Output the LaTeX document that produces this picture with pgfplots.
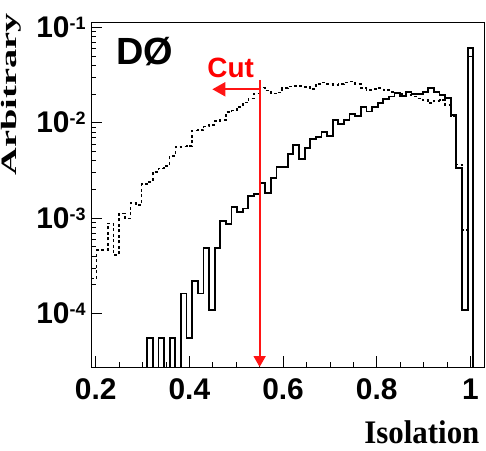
\documentclass[border=0pt]{standalone}
\usepackage{graphicx}
\usepackage{pgfplots}
\usepackage{pgfplotstable}
\pgfplotsset{compat=1.18}
\usepackage{fontspec}
\setmainfont{Liberation Sans}
\newfontfamily\timesfont{Liberation Serif}
\usetikzlibrary{arrows.meta}
\definecolor{cutred}{RGB}{255,20,20}

\pgfplotstableread{
x sig bkg
0.190 1e-6 1e-6
0.190 1e-6 2.33e-4
0.202 1e-6 4.6e-4
0.214 1e-6 4.6e-4
0.226 1e-6 8.8e-4
0.238 1e-6 4.1e-4
0.250 1e-6 1.12e-3
0.262 1e-6 9.9e-4
0.274 1e-6 1.43e-3
0.286 1e-6 1.37e-3
0.298 1e-6 2.26e-3
0.310 5.47e-5 2.4e-3
0.322 1e-6 3.06e-3
0.334 5.47e-5 3.32e-3
0.346 1e-6 3.51e-3
0.358 5.47e-5 4.48e-3
0.370 1e-6 5.52e-3
0.382 1.62e-4 5.6e-3
0.394 5.47e-5 5.69e-3
0.406 2.18e-4 8.3e-3
0.418 1.62e-4 8.4e-3
0.430 4.87e-4 9.08e-3
0.442 1.08e-4 9.46e-3
0.454 4.87e-4 1.04e-2
0.466 9.3e-4 1.07e-2
0.478 8.6e-4 1.3e-2
0.490 1.31e-3 1.34e-2
0.502 1.15e-3 1.47e-2
0.514 1.26e-3 1.62e-2
0.526 1.71e-3 1.8e-2
0.538 1.77e-3 2.03e-2
0.550 2.31e-3 2.33e-2
0.562 1.84e-3 2.17e-2
0.574 2.61e-3 2.03e-2
0.586 3.45e-3 2.08e-2
0.598 3.45e-3 2.3e-2
0.610 4.7e-3 2.39e-2
0.622 5.8e-3 2.43e-2
0.634 4.15e-3 2.43e-2
0.646 5.4e-3 2.36e-2
0.658 6.8e-3 2.24e-2
0.670 7.1e-3 2.55e-2
0.682 8.05e-3 2.63e-2
0.694 7.2e-3 2.53e-2
0.706 1.06e-2 2.49e-2
0.718 9.6e-3 2.55e-2
0.730 1.06e-2 2.65e-2
0.742 1.23e-2 2.69e-2
0.754 1.18e-2 2.55e-2
0.766 1.47e-2 2.3e-2
0.778 1.31e-2 2.2e-2
0.790 1.45e-2 2.24e-2
0.802 1.6e-2 2.3e-2
0.814 1.76e-2 2.2e-2
0.826 1.88e-2 2.11e-2
0.838 2.05e-2 2.03e-2
0.850 1.89e-2 1.99e-2
0.862 2.09e-2 1.94e-2
0.874 2.01e-2 1.88e-2
0.886 2.01e-2 1.8e-2
0.898 2.09e-2 1.73e-2
0.910 2.33e-2 1.6e-2
0.922 2.11e-2 1.7e-2
0.934 1.97e-2 1.73e-2
0.946 1.8e-2 1.54e-2
0.958 1.2e-2 1.16e-2
0.970 3.33e-3 3.66e-3
0.982 1.08e-4 7.5e-4
0.994 6.04e-2 4.93e-2
1.006 1e-6 1e-6
1.018 1e-6 1e-6
1.030 1e-6 1e-6
}\histdata

\begin{document}
\begin{tikzpicture}
\useasboundingbox (0,0) rectangle (486bp,451bp);
\begin{axis}[
  at={(91bp,84bp)}, anchor=south west,
  width=393.5bp, height=345bp, scale only axis,
  ymode=log,
  xmin=0.19, xmax=1.03, ymin=2.74e-5, ymax=0.1137,
  axis line style={line width=0.8bp},
  tick align=inside, xtick pos=bottom, ytick pos=left,
  xtick={0.2,0.4,0.6,0.8,1}, xticklabels={0.2,0.4,0.6,0.8,1},
  minor x tick num=3,
  ytick={1e-4,1e-3,1e-2,1e-1},
  yticklabels={10\raisebox{8bp}{\fontsize{18}{18}\selectfont -4},
               10\raisebox{8bp}{\fontsize{18}{18}\selectfont -3},
               10\raisebox{8bp}{\fontsize{18}{18}\selectfont -2},
               10\raisebox{8bp}{\fontsize{18}{18}\selectfont -1}},
  major tick length=11bp, minor tick length=5.5bp,
  every tick/.style={black, line width=0.6bp},
  ticklabel style={font=\fontsize{30}{30}\selectfont\bfseries},
  xticklabel style={yshift=-8bp},
  yticklabel style={xshift=-2bp},
  xlabel={\timesfont\bfseries\scalebox{0.94}[1]{Isolation}},
  xlabel style={at={(rel axis cs:0.996,-0.222)}, anchor=base east, font=\fontsize{33}{33}\selectfont},
  ylabel={\timesfont\bfseries\scalebox{1.75}[1]{Arbitrary}},
  ylabel style={at={(rel axis cs:-0.189,1.035)}, anchor=base east, font=\fontsize{22}{22}\selectfont},
]
\addplot[const plot, black, line width=1.6bp, dash pattern=on 3bp off 2.5bp] table[x=x, y=bkg] {\histdata};
\addplot[const plot, black, line width=1.8bp] table[x=x, y=sig] {\histdata};
\draw[draw=cutred, fill=cutred, line width=2bp, -{Triangle[length=11bp,width=12bp]}] (axis cs:0.55,0.0281) -- (axis cs:0.55,2.74e-5);
\draw[draw=cutred, fill=cutred, line width=2bp, -{Triangle[length=13bp,width=14bp]}] (axis cs:0.55,0.0224) -- (axis cs:0.449,0.0224);
\node[text=red, font=\fontsize{28}{28}\selectfont\bfseries] at (axis cs:0.488,0.0375) {Cut};
\node[font=\fontsize{38}{38}\selectfont\bfseries] at (rel axis cs:0.137,0.913) {DØ};
\end{axis}
\end{tikzpicture}
\end{document}
